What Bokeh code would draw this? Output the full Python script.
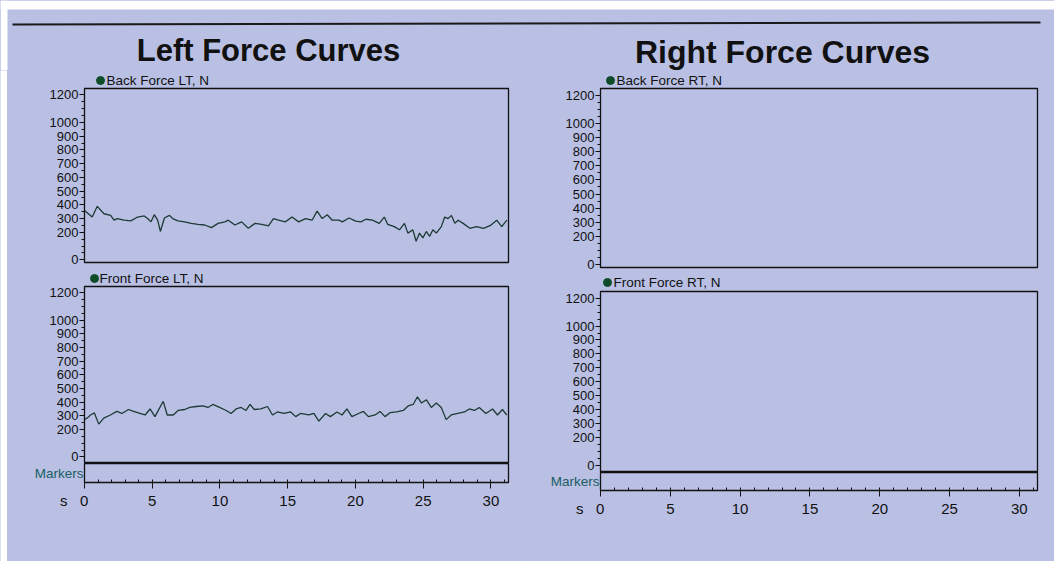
from bokeh.plotting import figure
from bokeh.models import Range1d, FixedTicker
from bokeh.layouts import column, row
from bokeh.embed import file_html
from bokeh.resources import INLINE
from bokeh.core.properties import value

# ---------------- data ----------------
titles = ["Left Force Curves", "Right Force Curves"]
channel_labels = ["Back Force LT, N", "Front Force LT, N", "Back Force RT, N", "Front Force RT, N"]

back_lt_t = [0.0, 0.57, 0.94, 1.44, 1.93, 2.18, 2.43, 2.92, 3.42, 3.92, 4.41, 4.66, 4.91, 5.15, 5.40,
             5.60, 5.90, 6.27, 6.52, 6.89, 7.39, 7.88, 8.38, 8.87, 9.37, 9.86, 10.36, 10.61, 11.10,
             11.60, 12.09, 12.59, 13.08, 13.58, 13.95, 14.32, 14.82, 15.32, 15.81, 16.31, 16.80,
             17.17, 17.55, 17.92, 18.29, 18.78, 19.03, 19.53, 20.02, 20.40, 20.77, 21.26, 21.76,
             22.13, 22.38, 22.87, 23.25, 23.62, 23.87, 24.24, 24.48, 24.73, 24.98, 25.23, 25.48,
             25.72, 25.97, 26.34, 26.59, 26.84, 27.09, 27.34, 27.58, 27.95, 28.45, 28.95, 29.44,
             29.94, 30.43, 30.80, 31.18]
back_lt_n = [358, 311, 389, 335, 323, 288, 300, 288, 283, 311, 319, 300, 276, 328, 288,
             206, 304, 323, 300, 283, 276, 265, 258, 253, 234, 265, 276, 288, 253,
             276, 229, 265, 258, 246, 300, 288, 276, 311, 276, 300, 288,
             354, 300, 328, 288, 288, 276, 304, 281, 276, 295, 288, 265,
             311, 258, 241, 218, 265, 194, 218, 135, 194, 159, 206, 171,
             218, 194, 241, 311, 300, 323, 265, 288, 265, 229, 241, 229,
             248, 288, 241, 288]

front_lt_t = [0.0, 0.20, 0.44, 0.73, 1.05, 1.42, 1.91, 2.39, 2.76, 3.25, 3.62, 4.10, 4.47, 4.84,
              5.20, 5.81, 6.11, 6.55, 6.91, 7.40, 7.77, 8.26, 8.75, 9.11, 9.48, 9.97, 10.46,
              10.82, 11.19, 11.56, 11.92, 12.22, 12.53, 13.02, 13.51, 13.88, 14.24, 14.73, 15.22,
              15.59, 15.95, 16.56, 16.93, 17.30, 17.79, 18.15, 18.64, 19.01, 19.37, 19.74, 20.23,
              20.59, 20.96, 21.45, 21.82, 22.18, 22.55, 23.04, 23.53, 23.89, 24.26, 24.58, 24.87,
              25.24, 25.60, 25.97, 26.34, 26.70, 27.07, 27.56, 28.05, 28.41, 28.78, 29.14, 29.63,
              30.12, 30.49, 30.85, 31.17]
front_lt_n = [275, 284, 307, 322, 240, 284, 307, 333, 318, 347, 333, 318, 307, 351,
              295, 407, 307, 307, 340, 347, 362, 369, 373, 362, 384, 362, 340,
              318, 351, 362, 340, 384, 347, 351, 369, 307, 329, 318, 329,
              295, 318, 307, 318, 262, 318, 295, 329, 307, 351, 295, 318,
              333, 295, 307, 333, 295, 324, 329, 340, 373, 384, 440, 395,
              418, 362, 395, 362, 273, 307, 318, 329, 351, 340, 362, 318,
              351, 307, 347, 307]

back_rt_t, back_rt_n = [], []
front_rt_t, front_rt_n = [], []

y_ticks = [0, 200, 300, 400, 500, 600, 700, 800, 900, 1000, 1200]
y_minor = list(range(0, 1201, 50))
x_ticks = [0, 5, 10, 15, 20, 25, 30]
x_minor = list(range(0, 32))
x_unit = "s"
marker_label = "Markers"
X_MAX = 31.3
Y_MAX = 1247

# ---------------- style ----------------
PAPER = "#b9c0e4"
INK = "#111111"
LINE = "#1d3a35"
DOT = "#0f4d2a"
TEAL = "#1b5e63"
FONT = "Liberation Sans"
NB = "\u00a0"


def style_yaxis(p):
    ax = p.yaxis[0]
    ax.ticker = FixedTicker(ticks=y_ticks, minor_ticks=y_minor)
    ax.major_label_text_font = FONT
    ax.major_label_text_font_size = "13px"
    ax.major_label_text_color = INK
    ax.major_label_standoff = 1
    ax.major_tick_out = 5
    ax.major_tick_in = 0
    ax.minor_tick_out = 3
    ax.minor_tick_in = 0
    ax.axis_line_color = INK
    ax.major_tick_line_color = INK
    ax.minor_tick_line_color = INK


def plain(p, fill=PAPER):
    p.background_fill_color = fill
    p.border_fill_color = fill
    p.grid.visible = False


def base_fig(w, h, left, right, top, bottom, y_range):
    p = figure(width=w, height=h, x_range=Range1d(0, X_MAX), y_range=y_range,
               min_border_left=left, min_border_right=right, min_border_top=top,
               min_border_bottom=bottom, output_backend="svg", toolbar_location=None)
    plain(p)
    p.outline_line_color = INK
    p.outline_line_width = 1.3
    return p


def caption(label, w, h, left, right, dot_x, text_x, mid_y):
    fw = w - left - right
    c = figure(width=w, height=h, x_range=Range1d(0, fw), y_range=Range1d(h, 0),
               min_border_left=left, min_border_right=right, min_border_top=0,
               min_border_bottom=0, output_backend="svg", toolbar_location=None)
    plain(c)
    c.axis.visible = False
    c.outline_line_color = None
    c.scatter(x=[dot_x], y=[mid_y], size=8, color=DOT, line_color=DOT)
    c.text(x=[text_x], y=[mid_y], text=[label], text_font=value(FONT), text_font_size="13.5px",
           text_color=INK, text_baseline="middle", text_align="left")
    return c


def force_fig(t, n, w, h, left, right, top, bottom, y0):
    p = base_fig(w, h, left, right, top, bottom, Range1d(y0, Y_MAX))
    p.xaxis.visible = False
    style_yaxis(p)
    if len(t):
        p.line(t, n, line_color=LINE, line_width=1.3)
    return p


def markers_fig(w, h, left, right, bottom):
    m = base_fig(w, h, left, right, 0, bottom, Range1d(0, 2))
    ya = m.yaxis[0]
    ya.ticker = FixedTicker(ticks=[1])
    ya.major_label_overrides = {1: marker_label}
    ya.major_label_text_font = FONT
    ya.major_label_text_font_size = "13.5px"
    ya.major_label_text_color = TEAL
    ya.major_label_standoff = 1
    ya.major_tick_out = 0
    ya.major_tick_in = 0
    ya.axis_line_color = None
    xa = m.xaxis[0]
    xa.ticker = FixedTicker(ticks=x_ticks, minor_ticks=x_minor)
    # unit "s" sits to the left of the first tick label; padding keeps "0" centred on its tick
    xa.major_label_overrides = {0: x_unit + NB * 3 + "0" + NB * 5}
    xa.major_label_text_font = FONT
    xa.major_label_text_font_size = "15px"
    xa.major_label_text_color = INK
    xa.major_label_standoff = 3
    xa.major_tick_out = 6
    xa.major_tick_in = 0
    xa.minor_tick_out = 0
    xa.minor_tick_in = 3
    xa.axis_line_color = INK
    xa.major_tick_line_color = INK
    xa.minor_tick_line_color = INK
    return m


# header
HEAD_H = 70
head = figure(width=1054, height=HEAD_H, x_range=Range1d(0, 1054), y_range=Range1d(HEAD_H, 0),
              min_border=0, output_backend="svg", toolbar_location=None)
plain(head)
head.axis.visible = False
head.outline_line_color = None
head.quad(left=[0, 0], right=[1054, 7], top=[0, 0], bottom=[9, HEAD_H],
          fill_color="white", line_color=None)
head.segment(x0=12, y0=24, x1=1040, y1=22, line_color="#1a1a1a", line_width=2)
head.text(x=[268], y=[50], text=[titles[0]], text_font=value(FONT), text_font_style="bold",
          text_font_size="31px", text_color=INK, text_align="center", text_baseline="middle")
head.text(x=[782], y=[51], text=[titles[1]], text_font=value(FONT), text_font_style="bold",
          text_font_size="32px", text_color=INK, text_align="center", text_baseline="middle")

# white paper edge on the left of the photo
BODY_H = 491
edge = figure(width=7, height=BODY_H, min_border=0, output_backend="svg", toolbar_location=None)
plain(edge, "white")
edge.axis.visible = False
edge.outline_line_color = None

# left column (frame x 84..508 on the page)
WL, LL, LR = 520, 77, 19
cap_bl = caption(channel_labels[0], WL, 17, LL, LR, 16, 22, 10)
back_l = force_fig(back_lt_t, back_lt_n, WL, 183, LL, LR, 1, 8, -20)
cap_fl = caption(channel_labels[1], WL, 15, LL, LR, 10, 15, 8)
front_l = force_fig(front_lt_t, front_lt_n, WL, 178, LL, LR, 1, 0, -48)
mark_l = markers_fig(WL, 98, LL, LR, 79)

# right column (frame x 600..1037 on the page)
WR, RL, RR = 527, 73, 17
cap_br = caption(channel_labels[2], WR, 17, RL, RR, 10, 16, 10)
back_r = force_fig(back_rt_t, back_rt_n, WR, 188, RL, RR, 1, 8, -20)
cap_fr = caption(channel_labels[3], WR, 15, RL, RR, 7, 13, 7)
front_r = force_fig(front_rt_t, front_rt_n, WR, 182, RL, RR, 1, 0, -48)
mark_r = markers_fig(WR, 89, RL, RR, 71)

layout = column(head,
                row(edge,
                    column(cap_bl, back_l, cap_fl, front_l, mark_l),
                    column(cap_br, back_r, cap_fr, front_r, mark_r)),
                styles={"background-color": PAPER})

open("out.html", "w").write(file_html(layout, INLINE))
